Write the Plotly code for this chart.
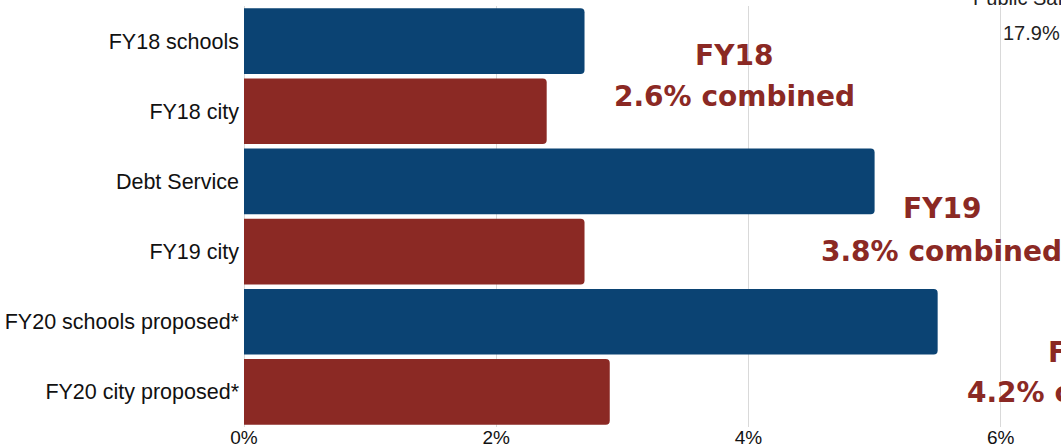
import plotly.graph_objects as go

categories = ["FY18 schools", "FY18 city", "Debt Service", "FY19 city",
              "FY20 schools proposed*", "FY20 city proposed*"]
values = [2.7, 2.4, 5.0, 2.7, 5.5, 2.9]
bar_colors = ["#0B4373", "#8B2924", "#0B4373", "#8B2924", "#0B4373", "#8B2924"]
tick_vals = [0, 2, 4, 6]
tick_text = ["0%", "2%", "4%", "6%"]

red = "#8B2924"
bold_font = dict(family="DejaVu Sans", size=28, color=red, weight="bold")
plain_font = dict(family="Liberation Sans", size=20, color="#222222")

fig = go.Figure(go.Bar(
    y=categories, x=values, orientation="h",
    marker=dict(color=bar_colors, cornerradius=4, line=dict(width=0)),
    hoverinfo="skip",
))

annos = [
    ("FY18", 0.600, 0.883, bold_font),
    ("2.6% combined", 0.600, 0.784, bold_font),
    ("FY19", 0.854, 0.520, bold_font),
    ("3.8% combined", 0.854, 0.416, bold_font),
    ("FY20", 1.032, 0.176, bold_font),
    ("4.2% combined", 1.032, 0.081, bold_font),
    ("Public Safety", 0.9645, 1.019, plain_font),
    ("17.9%", 0.9645, 0.935, plain_font),
]
for text, x, y, f in annos:
    fig.add_annotation(text=text, x=x, xref="paper", y=y, yref="paper",
                       xanchor="center", yanchor="middle", showarrow=False, font=f)

fig.update_layout(
    width=1061, height=448,
    margin=dict(l=243.5, r=0, t=6, b=21, autoexpand=False),
    paper_bgcolor="white", plot_bgcolor="white",
    bargap=0.065,
    showlegend=False,
    font=dict(family="Liberation Sans", size=21, color="#111111"),
)
fig.update_xaxes(range=[0, 6.478], tickvals=tick_vals, ticktext=tick_text,
                 showgrid=True, gridcolor="#d9d9d9", gridwidth=1,
                 zeroline=True, zerolinecolor="#d9d9d9", zerolinewidth=1,
                 showline=False, ticks="", tickfont=dict(size=19),
                 ticklabelstandoff=-3, automargin=False)
fig.update_yaxes(categoryorder="array", categoryarray=categories, autorange="reversed",
                 showgrid=False, showline=False, ticks="", ticklabelstandoff=4,
                 tickfont=dict(size=21.5), automargin=False)

fig.write_html("out.html")
